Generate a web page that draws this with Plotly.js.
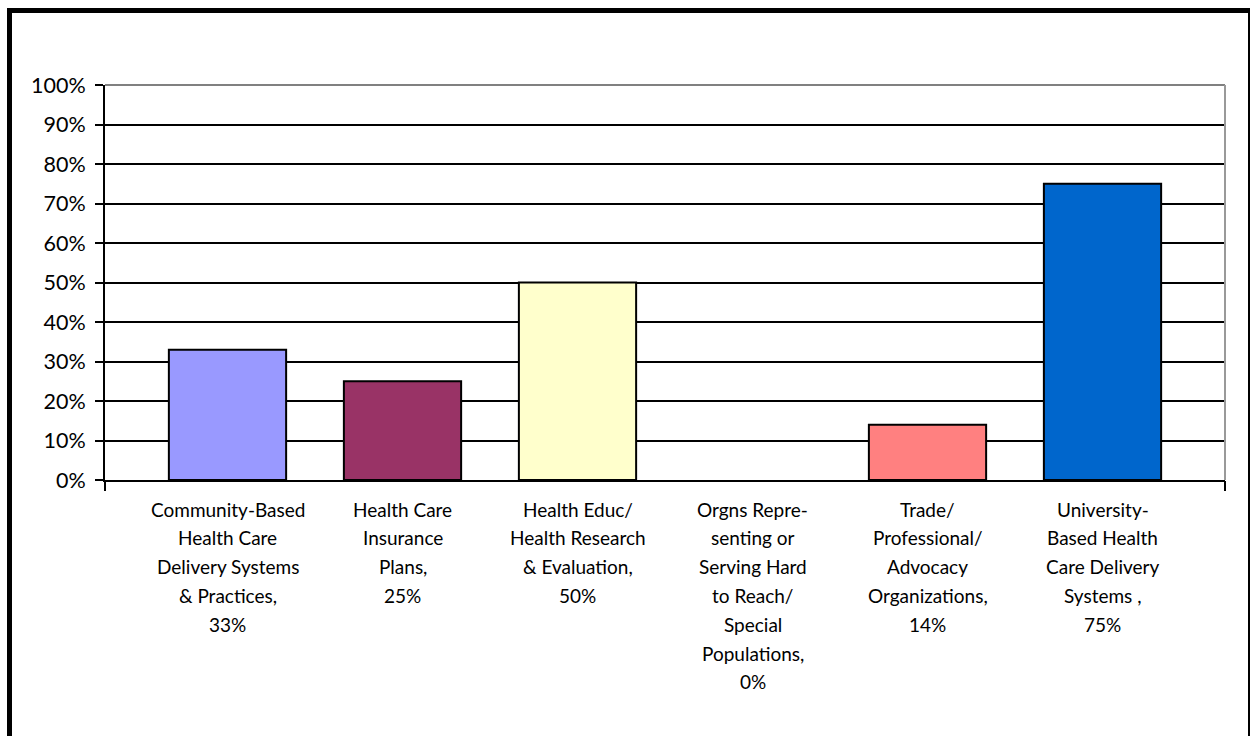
<!DOCTYPE html>
<html>
<head>
<meta charset="utf-8">
<script src="https://cdn.plot.ly/plotly-3.0.1.min.js"></script>
<style>
  html, body { margin: 0; padding: 0; background: #fff; overflow: hidden; }
  #chart { position: absolute; left: 0; top: 0; width: 1250px; height: 736px; }
  #frame { position: absolute; left: 7px; top: 8px; width: 1246px; height: 800px;
           box-sizing: border-box; border: 5px solid #000; pointer-events: none; z-index: 10; }
</style>
</head>
<body>
<div id="chart"></div>
<div id="frame"></div>
<script>
// ---- data ----
const categories = [
  "Community-Based Health Care Delivery Systems & Practices",
  "Health Care Insurance Plans",
  "Health Educ/ Health Research & Evaluation",
  "Orgns Representing or Serving Hard to Reach/ Special Populations",
  "Trade/ Professional/ Advocacy Organizations",
  "University-Based Health Care Delivery Systems"
];
const labelLines = [
  ["Community-Based", "Health Care", "Delivery Systems", "& Practices,", "33%"],
  ["Health Care", "Insurance", "Plans,", "25%"],
  ["Health Educ/", "Health Research", "& Evaluation,", "50%"],
  ["Orgns Repre-", "senting or", "Serving Hard", "to Reach/", "Special", "Populations,", "0%"],
  ["Trade/", "Professional/", "Advocacy", "Organizations,", "14%"],
  ["University-", "Based Health", "Care Delivery", "Systems ,", "75%"]
];
const values = [0.33, 0.25, 0.50, 0.00, 0.14, 0.75];
const barColors = ["#9999FF", "#993366", "#FFFFCC", "#CCFFFF", "#FF8080", "#0066CC"];
const yTickVals = [0, 0.1, 0.2, 0.3, 0.4, 0.5, 0.6, 0.7, 0.8, 0.9, 1.0];

// ---- chart ----
const xRange = [-0.7, categories.length - 1 + 0.7];
const FONT = "Lato, 'Open Sans', sans-serif";

const traces = [
  {
    type: "bar",
    x: categories,
    y: values,
    width: 0.67,
    marker: {
      color: barColors,
      line: { color: "#000", width: values.map(v => (v > 0 ? 2 : 0)) }
    },
    hoverinfo: "x+y",
    showlegend: false
  },
  {
    type: "scatter",
    x: [], y: [],
    xaxis: "x2",
    hoverinfo: "skip",
    showlegend: false
  }
];

const annotations = [];
const LINE_GAP = 28.8, FIRST = 29;
labelLines.forEach((lines, ci) => {
  lines.forEach((txt, li) => {
    annotations.push({
      x: categories[ci], xref: "x",
      y: 0, yref: "paper",
      yanchor: "middle", xanchor: "center",
      yshift: -(FIRST + li * LINE_GAP),
      text: txt, showarrow: false,
      font: { family: FONT, size: 19, color: "#000" }
    });
  });
});

const layout = {
  width: 1250, height: 736,
  margin: { l: 105, r: 25, t: 85, b: 256 },
  paper_bgcolor: "#fff",
  plot_bgcolor: "#fff",
  xaxis: {
    type: "category",
    range: xRange,
    showticklabels: false,
    ticks: "",
    showgrid: false,
    zeroline: false,
    showline: true, linecolor: "#000", linewidth: 2,
    fixedrange: true
  },
  xaxis2: {
    overlaying: "x", anchor: "y", side: "bottom",
    type: "linear",
    range: xRange,
    tickvals: xRange,
    ticks: "outside", ticklen: 10, tickwidth: 2, tickcolor: "#000",
    showticklabels: false, showgrid: false, zeroline: false, showline: false
  },
  yaxis: {
    range: [0, 1],
    tickvals: yTickVals,
    tickformat: ".0%",
    ticks: "outside", ticklen: 8, tickwidth: 2, tickcolor: "#000",
    ticklabelstandoff: 5,
    showgrid: true, gridcolor: "#000", gridwidth: 2,
    zeroline: false,
    showline: true, linecolor: "#000", linewidth: 2,
    tickfont: { family: FONT, size: 21.5, color: "#000" },
    fixedrange: true
  },
  shapes: [
    { type: "line", xref: "paper", yref: "paper", x0: 0, x1: 1, y0: 1, y1: 1,
      line: { color: "#808080", width: 2 }, layer: "above" },
    { type: "line", xref: "paper", yref: "paper", x0: 1, x1: 1, y0: 0, y1: 1,
      line: { color: "#999999", width: 2 }, layer: "above" }
  ],
  annotations: annotations,
  showlegend: false
};

Plotly.newPlot("chart", traces, layout, { displayModeBar: false, staticPlot: true });
</script>
</body>
</html>
